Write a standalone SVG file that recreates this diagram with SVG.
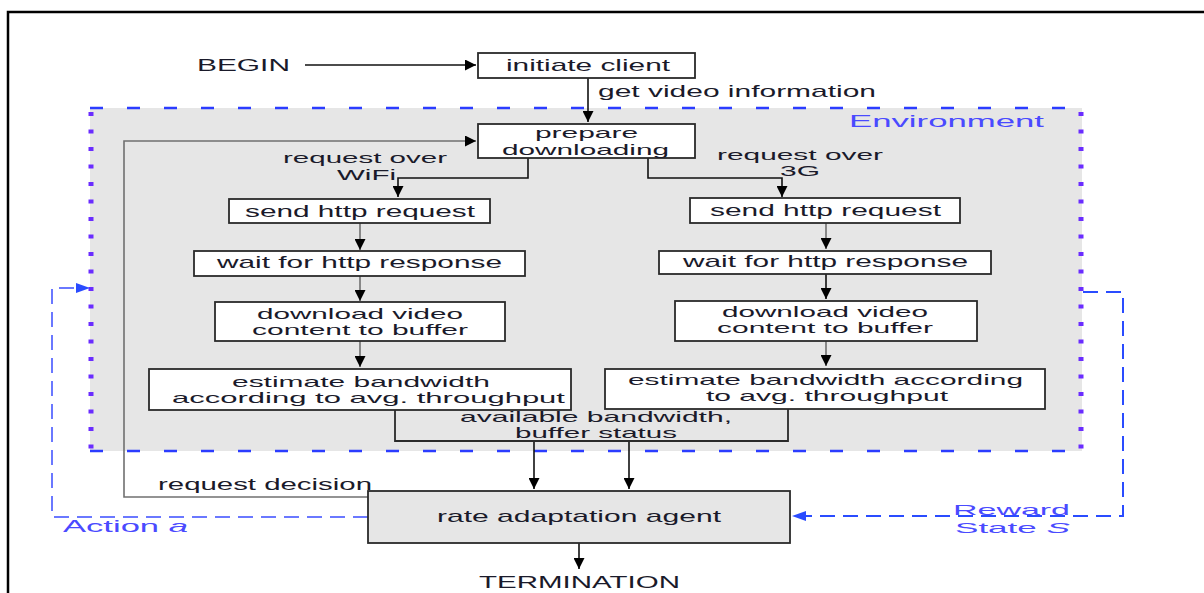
<svg xmlns="http://www.w3.org/2000/svg" width="1204" height="593" viewBox="0 0 1204 593">
<style>
text{font-family:"Liberation Sans",Arial,sans-serif;font-size:17px;fill:#1a1a2a}
text.m{font-size:15px}
.blue{fill:#4a4aff}
.box{fill:#fff;stroke:#2a2a2a;stroke-width:1.8}
.gbox{fill:#e6e6e6;stroke:#2a2a2a;stroke-width:1.8}
.ln{fill:none;stroke:#111;stroke-width:1.6}
.gl{fill:none;stroke:#707070;stroke-width:1.6}
.act{fill:none;stroke:#6a78ff;stroke-width:2;stroke-dasharray:15 8}
.rew{fill:none;stroke:#2a4cff;stroke-width:2;stroke-dasharray:15 8}
</style>
<defs>
<marker id="ah" viewBox="0 0 10 10" refX="10" refY="5" markerWidth="12" markerHeight="11" markerUnits="userSpaceOnUse" orient="auto"><path d="M0,0 L10,5 L0,10 z" fill="#000"/></marker>
</defs>
<rect width="1204" height="593" fill="#fff"/>
<rect x="8" y="12" width="1210" height="600" fill="none" stroke="#000" stroke-width="2.5"/>

<g id="environment">
<rect x="90" y="108" width="992" height="343" fill="#e6e6e6"/>
<path d="M90,108 H1082 M90,451 H1082" fill="none" stroke="#2b3cff" stroke-width="2.5" stroke-dasharray="13 24"/>
<path d="M91,112 V451 M1081,112 V451" fill="none" stroke="#6a2cff" stroke-width="5" stroke-dasharray="4 13.5"/>
<text class="blue" x="849" y="127" textLength="195" lengthAdjust="spacingAndGlyphs">Environment</text>
</g>

<g id="connectors">
<path class="ln" d="M305,65 H476" marker-end="url(#ah)"/>
<path class="ln" d="M588,78 V122" marker-end="url(#ah)"/>
<path class="gl" d="M368,497 H124 V141 H476" marker-end="url(#ah)"/>
<path class="ln" d="M528,158 V178 H398 V197" marker-end="url(#ah)"/>
<path class="ln" d="M648,158 V178 H782 V197" marker-end="url(#ah)"/>
<path class="gl" d="M360,223 V250" marker-end="url(#ah)"/>
<path class="gl" d="M360,276 V301" marker-end="url(#ah)"/>
<path class="gl" d="M360,341 V367" marker-end="url(#ah)"/>
<path class="gl" d="M826,223 V249" marker-end="url(#ah)"/>
<path class="ln" d="M826,274 V299" marker-end="url(#ah)"/>
<path class="gl" d="M826,341 V366" marker-end="url(#ah)"/>
<path class="ln" d="M534,441 V489" marker-end="url(#ah)"/>
<path class="ln" d="M629,441 V489" marker-end="url(#ah)"/>
<path class="ln" d="M579,543 V569" marker-end="url(#ah)"/>
<path class="act" d="M368,517 H52 V288 H80"/>
<path d="M76,283 L90,288 L76,293 z" fill="#2a4cff"/>
<path class="rew" d="M1083,292 H1123 V516 H800"/>
<path d="M806,511 L792,516 L806,521 z" fill="#2a4cff"/>
<text x="598" y="97" textLength="278" lengthAdjust="spacingAndGlyphs">get video information</text>
<text class="m" x="283" y="163" textLength="164" lengthAdjust="spacingAndGlyphs">request over</text>
<text class="m" x="337" y="180" textLength="59" lengthAdjust="spacingAndGlyphs">WiFi</text>
<text class="m" x="717" y="160" textLength="166" lengthAdjust="spacingAndGlyphs">request over</text>
<text class="m" x="780" y="176" textLength="40" lengthAdjust="spacingAndGlyphs">3G</text>
<text x="158" y="490" textLength="214" lengthAdjust="spacingAndGlyphs">request decision</text>
<text class="blue" x="63" y="532" textLength="125" lengthAdjust="spacingAndGlyphs">Action <tspan font-style="italic">a</tspan></text>
<text class="blue m" x="953" y="515" textLength="117" lengthAdjust="spacingAndGlyphs">Reward</text>
<text class="blue m" x="955" y="533" textLength="115" lengthAdjust="spacingAndGlyphs">State <tspan font-style="italic">S</tspan></text>
</g>

<g id="begin"><text x="197" y="71" textLength="93" lengthAdjust="spacingAndGlyphs">BEGIN</text></g>

<g id="initiate-client">
<rect class="box" x="478" y="53" width="217" height="25"/>
<text x="506" y="71" textLength="164" lengthAdjust="spacingAndGlyphs">initiate client</text>
</g>

<g id="prepare-downloading">
<rect class="box" x="478" y="124" width="217" height="34"/>
<text class="m" x="535" y="138" textLength="103" lengthAdjust="spacingAndGlyphs">prepare</text>
<text class="m" x="502" y="155" textLength="167" lengthAdjust="spacingAndGlyphs">downloading</text>
</g>

<g id="send-wifi">
<rect class="box" x="229" y="199" width="261" height="24"/>
<text x="245" y="217" textLength="230" lengthAdjust="spacingAndGlyphs">send http request</text>
</g>
<g id="wait-wifi">
<rect class="box" x="194" y="251" width="331" height="25"/>
<text x="217" y="268" textLength="285" lengthAdjust="spacingAndGlyphs">wait for http response</text>
</g>
<g id="download-wifi">
<rect class="box" x="215" y="302" width="290" height="39"/>
<text class="m" x="257" y="319" textLength="206" lengthAdjust="spacingAndGlyphs">download video</text>
<text class="m" x="252" y="335" textLength="216" lengthAdjust="spacingAndGlyphs">content to buffer</text>
</g>

<g id="send-3g">
<rect class="box" x="690" y="198" width="270" height="25"/>
<text x="710" y="216" textLength="231" lengthAdjust="spacingAndGlyphs">send http request</text>
</g>
<g id="wait-3g">
<rect class="box" x="659" y="251" width="332" height="23"/>
<text x="683" y="267" textLength="285" lengthAdjust="spacingAndGlyphs">wait for http response</text>
</g>
<g id="download-3g">
<rect class="box" x="675" y="301" width="302" height="40"/>
<text class="m" x="722" y="317" textLength="206" lengthAdjust="spacingAndGlyphs">download video</text>
<text class="m" x="717" y="333" textLength="216" lengthAdjust="spacingAndGlyphs">content to buffer</text>
</g>

<g id="available-bandwidth">
<path d="M395,405 V441 H788 V405" fill="#e6e6e6" stroke="#2a2a2a" stroke-width="1.8"/>
<text class="m" x="460" y="422" textLength="272" lengthAdjust="spacingAndGlyphs">available bandwidth,</text>
<text class="m" x="515" y="438" textLength="162" lengthAdjust="spacingAndGlyphs">buffer status</text>
</g>

<g id="estimate-wifi">
<rect class="box" x="149" y="369" width="422" height="41"/>
<text class="m" x="232" y="387" textLength="258" lengthAdjust="spacingAndGlyphs">estimate bandwidth</text>
<text class="m" x="172" y="403" textLength="393" lengthAdjust="spacingAndGlyphs">according to avg. throughput</text>
</g>
<g id="estimate-3g">
<rect class="box" x="605" y="369" width="440" height="40"/>
<text class="m" x="628" y="385" textLength="395" lengthAdjust="spacingAndGlyphs">estimate bandwidth according</text>
<text class="m" x="706" y="401" textLength="242" lengthAdjust="spacingAndGlyphs">to avg. throughput</text>
</g>

<g id="agent">
<rect class="gbox" x="368" y="491" width="422" height="52"/>
<text x="437" y="522" textLength="284" lengthAdjust="spacingAndGlyphs">rate adaptation agent</text>
</g>

<g id="termination"><text x="479" y="588" textLength="201" lengthAdjust="spacingAndGlyphs">TERMINATION</text></g>
</svg>
